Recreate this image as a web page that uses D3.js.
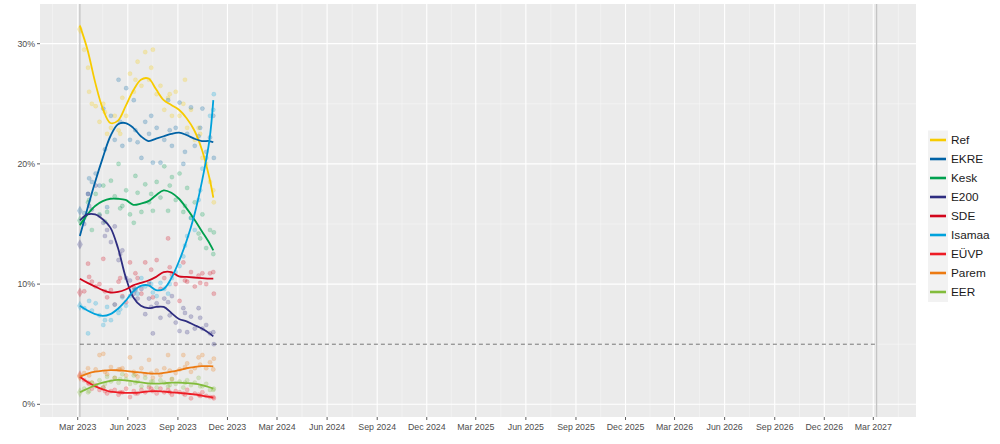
<!DOCTYPE html>
<html>
<head>
<meta charset="utf-8">
<script src="https://cdn.jsdelivr.net/npm/d3@7"></script>
<style>
  html, body { margin: 0; padding: 0; background: #ffffff; }
  svg { display: block; font-family: "Liberation Sans", Arial, sans-serif; }
</style>
</head>
<body>
<svg id="chart" width="1000" height="444"></svg>
<script>
// ---------------- DATA ----------------
const parties = ["Ref", "EKRE", "Kesk", "E200", "SDE", "Isamaa", "EÜVP", "Parem", "EER"];
const partyColors = ["#F7CB00", "#0062A5", "#00A04E", "#2E2D80", "#D2061C", "#00A2DC", "#EE1C25", "#EC7A12", "#82BC3C"];

const electionDates = ["2023-03-05", "2027-03-07"];
const electionResult = [31.2, 16.1, 15.3, 13.3, 9.3, 8.2, 2.4, 2.3, 1.0];
const threshold = 5;

const yTicks = [0, 10, 20, 30];
const yMinor = [5, 15, 25];
const xTickStart = "2023-03-01";
const xTickEnd = "2027-03-01";

// Smoothed trend lines
const trendDates = ["2023-03-05","2023-03-19","2023-04-02","2023-04-16","2023-04-30","2023-05-14","2023-05-28","2023-06-11","2023-06-25","2023-07-09","2023-07-23","2023-08-06","2023-08-20","2023-09-03","2023-09-17","2023-10-01","2023-10-15","2023-10-29","2023-11-05"];
const trendRef    = [31.5, 29.5, 26.8, 24.6, 23.4, 23.6, 24.8, 26.1, 27.0, 27.1, 26.2, 25.3, 24.9, 24.5, 23.8, 22.8, 21.2, 18.8, 17.2];
const trendEKRE   = [14.0, 16.3, 18.5, 20.5, 22.3, 23.3, 23.4, 23.0, 22.3, 21.9, 22.1, 22.3, 22.5, 22.6, 22.4, 22.1, 21.9, 21.9, 21.8];
const trendKesk   = [14.9, 15.8, 16.5, 16.9, 17.1, 17.1, 17.0, 16.6, 16.7, 16.9, 17.4, 17.8, 17.6, 17.1, 16.3, 15.4, 14.4, 13.4, 12.8];
const trendE200   = [15.3, 15.8, 15.8, 15.4, 14.7, 13.0, 10.6, 8.9, 8.2, 8.0, 8.1, 8.1, 7.6, 7.1, 6.9, 6.6, 6.3, 5.9, 5.65];
const trendSDE    = [10.45, 10.1, 9.8, 9.5, 9.3, 9.35, 9.55, 9.9, 10.1, 10.3, 10.6, 11.0, 11.0, 10.65, 10.6, 10.55, 10.5, 10.45, 10.45];
const trendIsamaa = [8.2, 7.8, 7.5, 7.35, 7.5, 7.95, 8.6, 9.4, 9.85, 9.9, 9.5, 9.6, 10.5, 11.9, 13.6, 15.7, 18.5, 22.0, 25.3];
const trendEUVP   = [2.3, 1.85, 1.5, 1.25, 1.05, 1.0, 0.95, 0.95, 1.0, 1.08, 1.1, 1.05, 1.0, 0.95, 0.9, 0.82, 0.72, 0.62, 0.56];
const trendParem  = [2.3, 2.55, 2.72, 2.8, 2.85, 2.83, 2.78, 2.7, 2.65, 2.58, 2.55, 2.62, 2.72, 2.85, 3.0, 3.1, 3.17, 3.17, 3.16];
const trendEER    = [1.0, 1.3, 1.6, 1.8, 1.95, 2.03, 2.0, 1.9, 1.82, 1.75, 1.72, 1.75, 1.8, 1.8, 1.77, 1.72, 1.6, 1.42, 1.3];

// Individual polls
const pollDates = ["2023-03-13","2023-03-20","2023-03-27","2023-04-03","2023-04-10","2023-04-17","2023-04-24","2023-05-01","2023-05-08","2023-05-15","2023-05-22","2023-05-29","2023-06-05","2023-06-12","2023-06-19","2023-06-26","2023-07-03","2023-07-10","2023-07-17","2023-07-24","2023-07-31","2023-08-07","2023-08-14","2023-08-21","2023-08-28","2023-09-04","2023-09-11","2023-09-18","2023-09-25","2023-10-02","2023-10-09","2023-10-16","2023-10-23","2023-10-30","2023-11-06","2023-03-22","2023-04-20","2023-05-18","2023-06-15","2023-07-14","2023-08-17","2023-09-14","2023-10-12","2023-11-05"];
const pollRef    = [29.5,28.0,25.0,24.8,23.5,25.0,22.5,23.0,24.0,22.8,25.5,24.0,27.5,26.0,28.5,26.5,29.3,27.0,29.5,25.8,26.5,24.5,25.5,24.0,26.0,24.0,25.0,23.0,24.5,22.0,23.0,20.5,20.0,18.5,16.8,26.0,24.3,22.5,27.0,28.0,25.8,27.0,22.5,17.8];
const pollEKRE   = [15.9,17.5,18.5,19.2,18.2,24.6,16.4,24.0,22.0,27.0,21.5,26.3,22.0,25.3,21.8,20.5,23.5,22.5,20.1,23.0,20.1,22.0,25.3,21.5,23.0,25.1,20.0,22.5,24.7,21.5,22.3,24.6,21.0,22.2,20.5,18.8,21.2,23.5,22.8,24.0,22.8,21.0,23.0,24.0];
const pollKesk   = [15.5,16.8,14.5,17.5,15.8,18.2,16.0,18.6,17.3,20.0,16.5,17.8,15.8,15.1,17.6,16.0,18.3,16.8,16.1,18.5,17.2,19.8,16.1,18.9,17.0,19.2,16.0,18.0,15.5,16.8,14.2,15.8,13.0,14.5,14.3,17.0,15.2,16.3,19.0,17.5,18.2,16.5,13.8,12.5];
const pollE200   = [15.0,17.5,16.2,18.2,15.7,15.1,14.5,13.5,14.8,12.0,12.8,10.5,10.3,9.2,8.8,9.6,7.5,8.8,5.9,8.4,7.2,8.8,8.5,9.0,6.8,6.1,8.0,6.0,7.3,6.3,8.0,6.3,6.6,5.9,5.0,16.5,14.0,12.5,9.5,8.1,7.4,7.6,7.2,6.0];
const pollSDE    = [9.4,11.7,10.2,9.8,10.0,12.1,8.9,9.5,8.3,10.2,9.0,8.5,11.8,9.7,10.5,9.2,11.8,10.0,8.9,12.0,9.6,10.5,13.8,10.8,10.0,8.6,11.8,10.2,11.0,9.8,10.7,10.9,10.0,10.9,9.2,10.6,9.4,10.5,10.9,11.2,11.4,10.3,10.1,11.0];
const pollIsamaa = [8.0,5.9,7.8,8.4,7.4,6.6,8.1,7.0,8.3,7.6,8.9,8.2,9.0,9.5,9.2,10.5,9.8,10.2,9.3,9.0,10.1,9.6,9.2,10.5,11.0,11.5,12.3,14.0,15.5,14.5,17.0,19.6,20.5,24.0,25.8,8.6,7.0,7.9,9.6,10.0,10.0,13.2,17.8,24.5];
const pollEUVP   = [2.0,1.8,1.3,1.6,1.2,1.4,0.9,1.1,1.2,0.8,1.0,1.3,0.6,1.1,0.9,1.2,1.0,1.4,1.1,0.9,1.3,1.0,1.2,0.8,1.1,1.0,0.9,1.2,0.5,0.9,0.8,1.0,0.7,0.6,0.5,1.7,1.1,1.0,0.9,1.3,1.0,0.8,0.7,0.6];
const pollParem  = [2.6,3.0,1.8,2.9,4.1,4.2,2.5,3.1,2.2,2.9,3.0,2.4,3.9,2.7,2.3,3.0,2.5,3.7,2.2,2.8,2.4,3.0,4.1,2.1,2.6,2.9,4.1,3.4,2.7,3.0,3.9,4.1,3.0,3.5,3.8,2.4,2.7,2.9,2.5,2.6,2.8,3.1,3.3,2.9];
const pollEER    = [1.3,1.0,1.8,1.5,2.0,1.4,2.3,1.9,2.2,1.8,2.5,2.1,1.7,2.4,1.9,1.5,2.2,1.6,1.9,1.4,2.0,1.8,1.5,2.1,1.7,1.9,1.4,2.0,1.6,1.8,2.2,1.5,1.7,1.2,1.3,1.1,1.7,2.1,1.8,1.9,1.6,1.8,1.5,1.2];

const trends = [trendRef, trendEKRE, trendKesk, trendE200, trendSDE, trendIsamaa, trendEUVP, trendParem, trendEER];
const polls  = [pollRef, pollEKRE, pollKesk, pollE200, pollSDE, pollIsamaa, pollEUVP, pollParem, pollEER];

// ---------------- CHART ----------------
const svg = d3.select("#chart");
const P = { left: 40, right: 916, top: 4, bottom: 417 };
const parse = d3.utcParse("%Y-%m-%d");

const x = d3.scaleUtc()
  .domain([parse(xTickStart), parse(xTickEnd)])
  .range([77.7, 873.3]);
const y = d3.scaleLinear().domain([-1.055, 33.3]).range([P.bottom, P.top]);

// panel background
svg.append("rect")
  .attr("x", P.left).attr("y", P.top)
  .attr("width", P.right - P.left).attr("height", P.bottom - P.top)
  .attr("fill", "#EBEBEB");

// quarterly ticks starting in March
const xMajor = d3.utcMonth.range(parse(xTickStart), d3.utcDay.offset(parse(xTickEnd), 1), 3);
const xMinorDates = [];
for (let i = 0; i < xMajor.length - 1; i++) {
  xMinorDates.push(new Date((xMajor[i].getTime() + xMajor[i + 1].getTime()) / 2));
}
const halfStep = (xMajor[1].getTime() - xMajor[0].getTime()) / 2;
xMinorDates.unshift(new Date(xMajor[0].getTime() - halfStep));
xMinorDates.push(new Date(xMajor[xMajor.length - 1].getTime() + halfStep));

const grid = svg.append("g");
grid.selectAll(".ymin").data(yMinor).join("line")
  .attr("x1", P.left).attr("x2", P.right)
  .attr("y1", d => y(d)).attr("y2", d => y(d))
  .attr("stroke", "#F7F7F7").attr("stroke-width", 0.55);
grid.selectAll(".xmin").data(xMinorDates.filter(d => x(d) > P.left && x(d) < P.right)).join("line")
  .attr("x1", d => x(d)).attr("x2", d => x(d))
  .attr("y1", P.top).attr("y2", P.bottom)
  .attr("stroke", "#F7F7F7").attr("stroke-width", 0.55);
grid.selectAll(".ymaj").data(yTicks).join("line")
  .attr("x1", P.left).attr("x2", P.right)
  .attr("y1", d => y(d)).attr("y2", d => y(d))
  .attr("stroke", "#FFFFFF").attr("stroke-width", 1.1);
grid.selectAll(".xmaj").data(xMajor).join("line")
  .attr("x1", d => x(d)).attr("x2", d => x(d))
  .attr("y1", P.top).attr("y2", P.bottom)
  .attr("stroke", "#FFFFFF").attr("stroke-width", 1.1);

// election vertical lines
svg.selectAll(".elec").data(electionDates).join("line")
  .attr("x1", d => x(parse(d))).attr("x2", d => x(parse(d)))
  .attr("y1", P.top).attr("y2", P.bottom)
  .attr("stroke", "#C4C4C4").attr("stroke-width", 1.3);

// threshold dashed line
svg.append("line")
  .attr("x1", x(parse(electionDates[0]))).attr("x2", x(parse(electionDates[1])))
  .attr("y1", y(threshold)).attr("y2", y(threshold))
  .attr("stroke", "#555555").attr("stroke-width", 0.8)
  .attr("stroke-dasharray", "4,3");

// poll points
const pts = svg.append("g");
parties.forEach((p, i) => {
  pts.selectAll(null).data(pollDates.map((d, j) => ({ d: parse(d), v: polls[i][j] })))
    .join("circle")
    .attr("cx", d => x(d.d)).attr("cy", d => y(d.v))
    .attr("r", 2.1)
    .attr("fill", partyColors[i]).attr("fill-opacity", 0.25)
    .attr("stroke", partyColors[i]).attr("stroke-opacity", 0.15).attr("stroke-width", 0.8);
});

// election result diamonds
const sym = d3.symbol().type(d3.symbolDiamond).size(30);
svg.append("g").selectAll("path").data(parties.map((p, i) => ({ v: electionResult[i], c: partyColors[i] })))
  .join("path")
  .attr("d", sym)
  .attr("transform", d => `translate(${x(parse(electionDates[0]))},${y(d.v)})`)
  .attr("fill", d => d.c).attr("fill-opacity", 0.28);

// trend lines
const line = d3.line()
  .x(d => x(d.d)).y(d => y(d.v))
  .curve(d3.curveCatmullRom.alpha(0.5));
const lines = svg.append("g");
parties.forEach((p, i) => {
  lines.append("path")
    .datum(trendDates.map((d, j) => ({ d: parse(d), v: trends[i][j] })))
    .attr("d", line)
    .attr("fill", "none")
    .attr("stroke", partyColors[i])
    .attr("stroke-width", 1.8)
    .attr("stroke-linejoin", "round").attr("stroke-linecap", "butt");
});

// axes
const axisColor = "#4D4D4D";
const yAxis = svg.append("g");
yTicks.forEach(t => {
  yAxis.append("line").attr("x1", 37).attr("x2", P.left).attr("y1", y(t)).attr("y2", y(t))
    .attr("stroke", "#333333").attr("stroke-width", 0.8);
  yAxis.append("text").attr("x", 35).attr("y", y(t)).attr("dy", "0.35em")
    .attr("text-anchor", "end").attr("font-size", 8.8).attr("fill", axisColor)
    .text(t + "%");
});
const fmt = d3.utcFormat("%b %Y");
const xAxis = svg.append("g");
xMajor.forEach(t => {
  xAxis.append("line").attr("x1", x(t)).attr("x2", x(t)).attr("y1", P.bottom).attr("y2", P.bottom + 3)
    .attr("stroke", "#333333").attr("stroke-width", 0.8);
  xAxis.append("text").attr("x", x(t)).attr("y", P.bottom + 12.5)
    .attr("text-anchor", "middle").attr("font-size", 8.8).attr("fill", axisColor)
    .text(fmt(t));
});

// legend
const lg = svg.append("g");
const lgTop = 130.5, lgStep = 19;
lg.append("rect").attr("x", 928).attr("y", lgTop).attr("width", 20).attr("height", lgStep * parties.length + 0.5)
  .attr("fill", "#F2F2F2");
parties.forEach((p, i) => {
  const cy = lgTop + lgStep * i + 9.5;
  lg.append("line").attr("x1", 930).attr("x2", 946).attr("y1", cy).attr("y2", cy)
    .attr("stroke", partyColors[i]).attr("stroke-width", 2.6);
  lg.append("text").attr("x", 951).attr("y", cy).attr("dy", "0.36em")
    .attr("font-size", 11.8).attr("fill", "#1A1A1A").text(p);
});
</script>
</body>
</html>
